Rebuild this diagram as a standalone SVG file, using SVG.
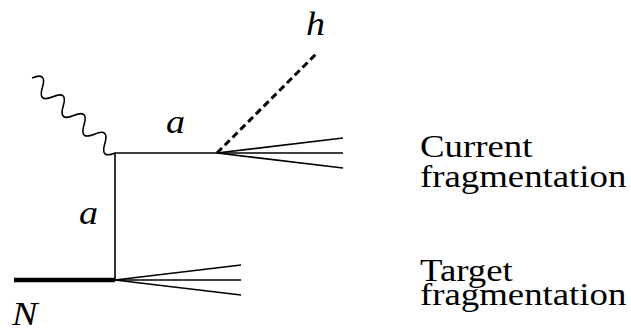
<svg xmlns="http://www.w3.org/2000/svg" width="631" height="331" viewBox="0 0 631 331">
<style>
.ln{stroke:#000;stroke-width:1.6;fill:none}
</style>
<rect width="631" height="331" fill="#fff"/>
<g id="connectors">
<path id="photon" class="ln" d="M0,0 q7,-15 14,0 t14,0 t14,0 t14,0 t14,0 t14,0 t14,0 t14,0" transform="translate(32,78) rotate(42)"/>
<line class="ln" x1="115" y1="153" x2="115" y2="280"/>
<line class="ln" x1="115" y1="153" x2="217" y2="153"/>
<line x1="14" y1="280" x2="115" y2="280" stroke="#000" stroke-width="4.5"/>
<line x1="217" y1="153" x2="318" y2="52" stroke="#000" stroke-width="3" stroke-dasharray="7,4"/>
<g id="current-jet">
<line class="ln" x1="217" y1="153" x2="343" y2="138"/>
<line class="ln" x1="217" y1="153" x2="343" y2="153"/>
<line class="ln" x1="217" y1="153" x2="343" y2="168"/>
</g>
<g id="target-jet">
<line class="ln" x1="115" y1="280" x2="241" y2="265"/>
<line class="ln" x1="115" y1="280" x2="241" y2="280"/>
<line class="ln" x1="115" y1="280" x2="241" y2="295"/>
</g>
</g>
<g id="labels">
<text x="306" y="35" font-family="Liberation Serif" font-style="italic" font-size="34" transform="translate(306,35) scale(1.12,1) translate(-306,-35)">h</text>
<text x="166" y="133" font-family="Liberation Serif" font-style="italic" font-size="34" transform="translate(166,133) scale(1.12,1) translate(-166,-133)">a</text>
<text x="79" y="224" font-family="Liberation Serif" font-style="italic" font-size="34" transform="translate(79,224) scale(1.12,1) translate(-79,-224)">a</text>
<text x="12" y="325" font-family="Liberation Serif" font-style="italic" font-size="34" transform="translate(12,325) scale(1.12,1) translate(-12,-325)">N</text>
</g>
<g id="current">
<text x="420" y="157" font-family="Liberation Serif" font-size="32" transform="translate(420,0) scale(1.15,1) translate(-420,0)">Current</text>
<text x="420" y="187" font-family="Liberation Serif" font-size="32" transform="translate(420,0) scale(1.15,1) translate(-420,0)">fragmentation</text>
</g>
<g id="target">
<text x="420" y="281" font-family="Liberation Serif" font-size="32" transform="translate(420,0) scale(1.15,1) translate(-420,0)">Target</text>
<text x="420" y="305" font-family="Liberation Serif" font-size="32" transform="translate(420,0) scale(1.15,1) translate(-420,0)">fragmentation</text>
</g>
</svg>
